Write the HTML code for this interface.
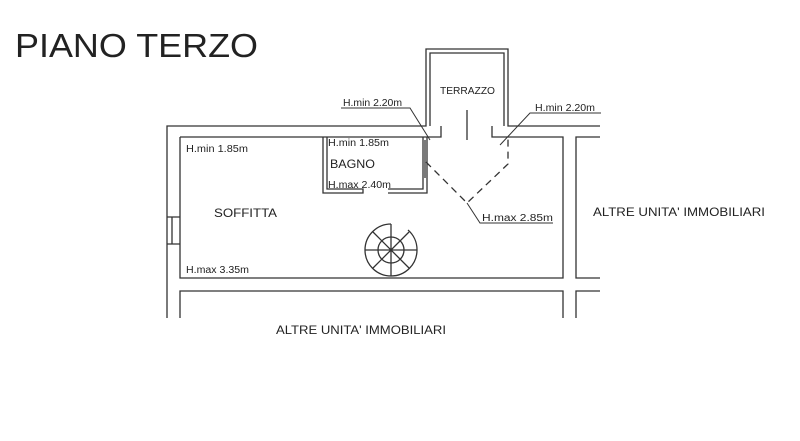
<!DOCTYPE html>
<html><head><style>body{margin:0;background:#fff}svg{display:block}text{font-family:"Liberation Sans",sans-serif;fill:#222}</style></head>
<body>
<svg width="800" height="441" viewBox="0 0 800 441" xmlns="http://www.w3.org/2000/svg">
<text x="15" y="57" font-size="33" textLength="243" lengthAdjust="spacingAndGlyphs">PIANO TERZO</text>
<g stroke="#333" stroke-width="1.3" fill="none">
<path d="M167,318 V126 H426 V49 H508 V126 H600"/>
<path d="M430,126 V53 H504 V126"/>
<path d="M180,318 V291 H563 V318"/>
<path d="M180,137 H441 V126"/>
<path d="M492,126 V137 H563 V278 H180 V137"/>
<path d="M600,137 H576 V278 H600"/>
<path d="M600,291 H576 V318"/>
<path d="M167,217 H180 M167,244 H180 M172,217 V244"/>
<path d="M323,137 V193 H363 V189 H327 V137"/>
<path d="M388,193 H427 V137 M388,189 H423 V137"/>
<path d="M425,140 V178"/>
<path d="M467,110 V140"/>
<path d="M426,162 L467,203 L508,164 V138" stroke-dasharray="7,5"/>
<path d="M467,203 L480,223 H553" stroke-width="1"/>
<path d="M341,108 H410 L430,140" stroke-width="1"/>
<path d="M601,113 H530 L500,145" stroke-width="1"/>
<path d="M391,224 A26,26 0 1 0 417,250 A26,26 0 0 0 408,230"/>
<circle cx="391" cy="250" r="13"/>
<path d="M365,250 H417 M391,224 V276 M373,232 L409,268 M373,268 L409,232"/>
</g>
<g font-size="10">
<text x="440" y="94" textLength="55" lengthAdjust="spacingAndGlyphs">TERRAZZO</text>
<text x="343" y="106" textLength="59" lengthAdjust="spacingAndGlyphs">H.min 2.20m</text>
<text x="535" y="111" textLength="60" lengthAdjust="spacingAndGlyphs">H.min 2.20m</text>
<text x="186" y="152" textLength="62" lengthAdjust="spacingAndGlyphs">H.min 1.85m</text>
<text x="328" y="146" textLength="61" lengthAdjust="spacingAndGlyphs">H.min 1.85m</text>
<text x="328" y="188" textLength="63" lengthAdjust="spacingAndGlyphs">H.max 2.40m</text>
<text x="482" y="221" textLength="71" lengthAdjust="spacingAndGlyphs">H.max 2.85m</text>
<text x="186" y="273" textLength="63" lengthAdjust="spacingAndGlyphs">H.max 3.35m</text>
</g>
<g font-size="12">
<text x="330" y="168" textLength="45" lengthAdjust="spacingAndGlyphs">BAGNO</text>
<text x="214" y="217" textLength="63" lengthAdjust="spacingAndGlyphs">SOFFITTA</text>
<text x="593" y="216" textLength="172" lengthAdjust="spacingAndGlyphs">ALTRE UNITA' IMMOBILIARI</text>
<text x="276" y="334" textLength="170" lengthAdjust="spacingAndGlyphs">ALTRE UNITA' IMMOBILIARI</text>
</g>
</svg>
</body></html>
